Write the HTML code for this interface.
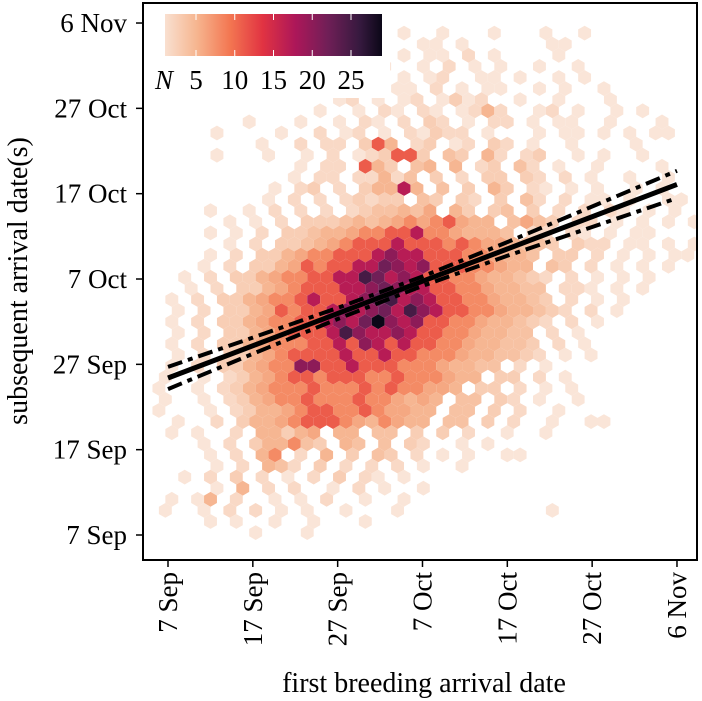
<!DOCTYPE html>
<html><head><meta charset="utf-8"><style>
html,body{margin:0;padding:0;background:#fff;}
svg{display:block;font-family:"Liberation Serif",serif;}
</style></head><body>
<svg id="chart" width="702" height="701" viewBox="0 0 702 701" xmlns="http://www.w3.org/2000/svg">
<defs>
<linearGradient id="rocket" x1="0" x2="1" y1="0" y2="0">
<stop offset="0" stop-color="#f9e0d0"/><stop offset="0.15" stop-color="#f6b48e"/><stop offset="0.3" stop-color="#f37651"/><stop offset="0.45" stop-color="#e13342"/><stop offset="0.6" stop-color="#ad1759"/><stop offset="0.75" stop-color="#701f57"/><stop offset="0.9" stop-color="#35193e"/><stop offset="1" stop-color="#0b0717"/>
</linearGradient>
<clipPath id="plotclip"><rect x="143" y="3" width="554" height="557"/></clipPath>
</defs>
<g id="hexes" clip-path="url(#plotclip)"></g>
<g id="fit" clip-path="url(#plotclip)"></g>
<rect x="143" y="3" width="554" height="557" fill="none" stroke="#000" stroke-width="2"/>
<g id="axes"></g>
<g>
<rect x="150" y="8" width="240" height="90" fill="#fff"/>
<rect x="165" y="14" width="217" height="42" fill="url(#rocket)"/>
<g id="legendticks"></g>
<text x="155" y="89" font-size="27" font-style="italic">N</text>
</g>
<text x="424" y="692" font-size="28" text-anchor="middle">first breeding arrival date</text>
<text transform="translate(27,281) rotate(-90)" font-size="28" text-anchor="middle">subsequent arrival date(s)</text>
</svg>
<script>
// ---- data ----
const tickLabels = ["7 Sep","17 Sep","27 Sep","7 Oct","17 Oct","27 Oct","6 Nov"];
const tickDays = [0,10,20,30,40,50,60];
const legendValues = [5,10,15,20,25];
const fitIntercept = 18.4;
const fitSlope = 0.378;
const ciX = [0,10,20,30,40,50,60];
const ciHalf = [1.3,0.95,0.65,0.55,0.8,1.2,1.6];
// hex rows: [startColumn, counts string] ('.'=0, 1-9, a=10 ... t=29)
const hexRows = [
[0,""],[0,""],
[20,"1..1...1...1..1"],
[21,"11.1......11"],
[17,"1..1.11.2.1....1"],
[18,"1..1.2.1.1..1..1"],
[16,"1.1.1.12..11.1..1.1"],
[15,"1.1.11.2.1.11..1.1..1"],
[15,"12.1.12.1312..1..1...1"],
[13,"1..1.21.21.1252..12.1..1.1"],
[8,"1...1..1.21.2.32.1.22.1.11..1...1"],
[5,"1....1..2.12.1.21322.1...1.11.1.1.11"],
[9,"1..2.22.3b5.23.12.32.1..1....1"],
[5,"1...1..1.2.123bb3.43.52.23..1.1..1"],
[12,"1.22.b53.45.5.23.42.1..1....1"],
[11,"1.22.22524.3.2.33.32.2.1..1..1"],
[10,"1.23.2.355h5.4.3.53.21.1.1..1.1"],
[9,"1.2.2.23233.43.32.3.42.2.11.1..11.1"],
[5,"1..1.2.2.2.2344546.53.34.3.2.2.21.1.1"],
[6,"1.1.2.33345456868b655.4643.22.1.1.1.1"],
[5,"1.1.2.33455688bbh8865554.22.21.1.11"],
[6,"1.2.334568bbbhbbb8b8665443.322.11.1.1"],
[5,"1.2.335688bbbhkhhbbb886554.33.2.1.1.11"],
[4,"1.2.3356b8bbhhmkhkbbb88655.43.2.1.1.1"],
[3,"1.2.335688bbhhpmhkhbb88655432.2.1.1.1"],
[3,"1.2.33568bbbhhkmkhhbb8865544.221.1.1"],
[2,"1.2.335688bhbbhkmphkhbb8865543.2.1.1"],
[2,"1.2.3356b8bbhkhkmhpkhbb88655432.2.1"],
[2,"1.2.335688bbhkhmtkhkbb88655432.2.1"],
[2,"1.2.33568bbbhpkhhkhbb8865544.2.1"],
[2,"1.2.3356888bbhbkhbhbb88655443.2.1"],
[2,"1.2.33568bbbbhbbhbb8886554432.1.1"],
[2,"1.2.335688kkbbhbbb88865544.2.1"],
[1,"1..1.23568bb8bbb88b888655.33.2.1"],
[1,"1..1.2356888b888b8b88665.33.2.1.1"],
[1,"1..1.235688b888b886565.44.32.1..1"],
[1,"1...1.235568bb88b86655.44.3.2..1"],
[2,"1..2.35568bbb8658655.44.3.2..1..11"],
[2,"1.1..2.55356.55.44.3.3.2..1..1"],
[2,"..1.2.355843.54.4.32..1.1"],
[2,"...1.2.58.2.5.3.43.2.1.1..11"],
[3,"..1.2.542.3.2.2.2.1..1"],
[3,"1.2.3.2.1.2.3.21.1"],
[3,"..1.5.2.2..1.2.1..1"],
[2,"1.15.2..1.1.2..1..1"],
[1,"1..1.2.2.1.1..1...1...........1"],
[5,"1.1..1..1...1"],
[8,"1...1"]
];
// ---- scales ----
const X0=168, XPD=8.483, Y0=535, YPD=8.533;
function sx(d){return X0+d*XPD;}
function sy(d){return Y0-d*YPD;}
// hex bin geometry (days)
const binX0=-2.593, binDX=1.5207, binY0=61.42, binDY=1.3008;
const stops=[[0,[250,229,216]],[0.15,[246,180,142]],[0.3,[243,118,81]],[0.45,[225,51,66]],[0.6,[173,23,89]],[0.75,[112,31,87]],[0.9,[53,25,62]],[1,[11,7,23]]];
function color(n){
  let t=(n-1)/28; t=Math.max(0,Math.min(1,t));
  for(let i=1;i<stops.length;i++){ if(t<=stops[i][0]){const a=stops[i-1],b=stops[i];const f=(t-a[0])/(b[0]-a[0]);
    const c=a[1].map((v,j)=>Math.round(v+(b[1][j]-v)*f));return `rgb(${c[0]},${c[1]},${c[2]})`;}}
  return "rgb(11,7,23)";
}
function val(ch){ if(ch==='.')return 0; if(/[0-9]/.test(ch))return +ch; return ch.charCodeAt(0)-87; }
const NS="http://www.w3.org/2000/svg";
const hg=document.getElementById('hexes');
hexRows.forEach((row,r)=>{
  const start=row[0], s=row[1];
  for(let i=0;i<s.length;i++){
    const n=val(s[i]); if(!n) continue;
    const k=start+i;
    const dx=binX0+binDX*k+(r%2?binDX/2:0);
    const dy=binY0-binDY*r;
    const cx=sx(dx), cy=sy(dy);
    const w=binDX*XPD/2, h=binDY*YPD/1.5;
    const pts=[[0,-h],[w,-h/2],[w,h/2],[0,h],[-w,h/2],[-w,-h/2]].map(p=>(cx+p[0]).toFixed(2)+","+(cy+p[1]).toFixed(2)).join(" ");
    const p=document.createElementNS(NS,'polygon');
    p.setAttribute('points',pts);p.setAttribute('fill',color(n));
    
    
    hg.appendChild(p);
  }
});
// fit lines
const fg=document.getElementById('fit');
function addPath(d,dash,wd,name){
  const p=document.createElementNS(NS,'path');p.setAttribute('d',d);p.setAttribute('fill','none');
  p.setAttribute('stroke','#000');p.setAttribute('stroke-width',wd);if(dash)p.setAttribute('stroke-dasharray',dash);
  
  
  fg.appendChild(p);
}
addPath(`M${sx(ciX[0])},${sy(fitIntercept)} L${sx(ciX[ciX.length-1])},${sy(fitIntercept+fitSlope*ciX[ciX.length-1])}`,null,5,'fit-line');
['upper','lower'].forEach((nm,j)=>{
  const sgn=j?-1:1;
  const d=ciX.map((x,i)=>(i?'L':'M')+sx(x).toFixed(1)+','+sy(fitIntercept+fitSlope*x+sgn*ciHalf[i]).toFixed(1)).join(' ');
  addPath(d,"15 6 5 6",4,'ci-'+nm);
});
// axes
const ag=document.getElementById('axes');
tickDays.forEach((d,i)=>{
  const ty=sy(d), tx=sx(d);
  let l=document.createElementNS(NS,'line');
  l.setAttribute('x1',136);l.setAttribute('x2',143);l.setAttribute('y1',ty);l.setAttribute('y2',ty);l.setAttribute('stroke','#000');l.setAttribute('stroke-width',1.5);
  
  
  ag.appendChild(l);
  let t=document.createElementNS(NS,'text');
  t.setAttribute('x',127);t.setAttribute('y',ty+9);t.setAttribute('text-anchor','end');t.setAttribute('font-size','27');t.textContent=tickLabels[i];
  
  
  ag.appendChild(t);
  l=document.createElementNS(NS,'line');
  l.setAttribute('x1',tx);l.setAttribute('x2',tx);l.setAttribute('y1',560);l.setAttribute('y2',567);l.setAttribute('stroke','#000');l.setAttribute('stroke-width',1.5);
  
  
  ag.appendChild(l);
  t=document.createElementNS(NS,'text');
  t.setAttribute('transform',`translate(${tx+9},572) rotate(-90)`);t.setAttribute('text-anchor','end');t.setAttribute('font-size','27');t.textContent=tickLabels[i];
  
  
  ag.appendChild(t);
});
// legend ticks
const lg=document.getElementById('legendticks');
legendValues.forEach(v=>{
  const x=165+(v-1)*7.75;
  [[14,20],[50,56]].forEach(yy=>{
    const l=document.createElementNS(NS,'line');
    l.setAttribute('x1',x);l.setAttribute('x2',x);l.setAttribute('y1',yy[0]);l.setAttribute('y2',yy[1]);l.setAttribute('stroke','#fff');l.setAttribute('stroke-width',1);
    
    
    lg.appendChild(l);
  });
  const t=document.createElementNS(NS,'text');
  t.setAttribute('x',x);t.setAttribute('y',89);t.setAttribute('text-anchor','middle');t.setAttribute('font-size','27');t.textContent=v;
  
  
  lg.appendChild(t);
});
</script>
</body></html>
